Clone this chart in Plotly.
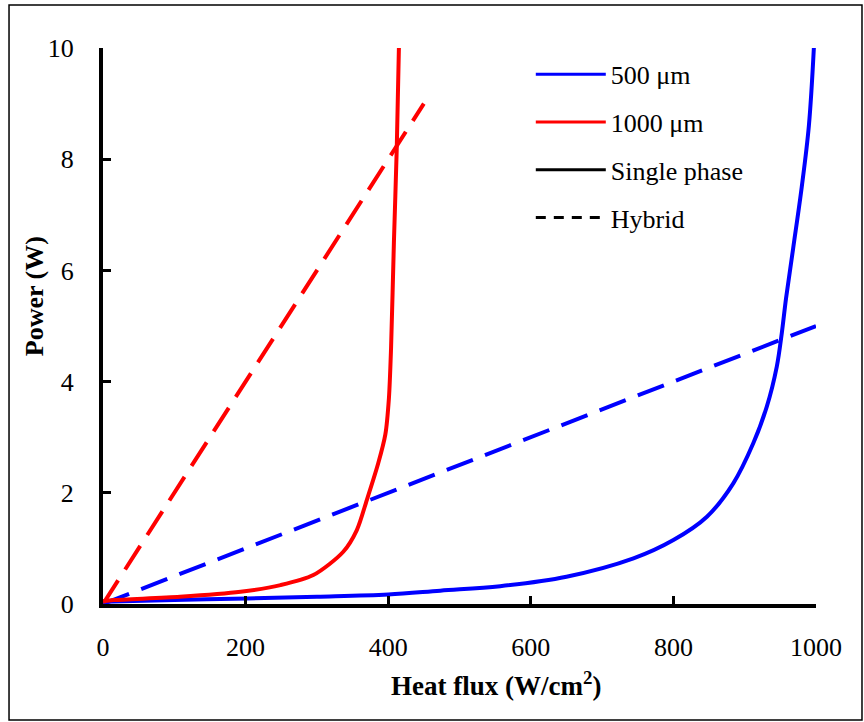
import plotly.graph_objects as go

# Data
blue_solid_x = [0, 100, 202, 300, 400, 473, 557, 650, 744, 800, 847, 884, 912, 931, 945, 952, 958, 968, 980, 990, 997]
blue_solid_y = [0.04, 0.07, 0.10, 0.13, 0.17, 0.24, 0.32, 0.49, 0.82, 1.15, 1.57, 2.17, 2.89, 3.55, 4.27, 4.87, 5.5, 6.4, 7.5, 8.6, 10]
red_solid_x = [0, 15, 108, 193, 249, 295, 337, 356, 370, 386, 396, 401, 404, 408, 412, 415]
red_solid_y = [0.05, 0.07, 0.13, 0.22, 0.34, 0.52, 0.94, 1.33, 1.87, 2.53, 3.05, 3.7, 4.6, 6.5, 8.2, 10]
blue_hybrid_x = [0, 1000]
blue_hybrid_y = [0, 5]
red_hybrid_x = [0, 450]
red_hybrid_y = [0, 9]

x_ticks = [0, 200, 400, 600, 800, 1000]
y_ticks = [0, 2, 4, 6, 8, 10]

FONT = "Liberation Serif"
BLUE = "#0000FF"
RED = "#FF0000"

fig = go.Figure()

fig.add_trace(go.Scatter(x=blue_hybrid_x, y=blue_hybrid_y, mode="lines",
                         line=dict(color=BLUE, width=4, dash="28px,13px"), showlegend=False))
fig.add_trace(go.Scatter(x=red_hybrid_x, y=red_hybrid_y, mode="lines",
                         line=dict(color=RED, width=4, dash="28px,13px"), showlegend=False))
fig.add_trace(go.Scatter(x=blue_solid_x, y=blue_solid_y, mode="lines",
                         line=dict(color=BLUE, width=4, shape="spline", smoothing=1.0),
                         showlegend=False))
fig.add_trace(go.Scatter(x=red_solid_x, y=red_solid_y, mode="lines",
                         line=dict(color=RED, width=4, shape="spline", smoothing=0.8),
                         showlegend=False))

# legend-only entries
legend_items = [("500 μm", BLUE, "solid"), ("1000 μm", RED, "solid"),
                ("Single phase", "black", "solid"), ("Hybrid", "black", "10px,8px")]
for i, (name, col, dash) in enumerate(legend_items):
    fig.add_trace(go.Scatter(x=[None], y=[None], mode="lines", name=name,
                             legendgroup=f"g{i}",
                             line=dict(color=col, width=3, dash=dash)))

axis_common = dict(
    showline=True, linecolor="black", linewidth=4, mirror=False,
    ticks="inside", ticklen=8, tickwidth=3, tickcolor="black",
    showgrid=False, zeroline=False,
    tickfont=dict(family=FONT, size=26, color="black"),
)

fig.update_xaxes(range=[0, 1000], tickvals=x_ticks, ticklabelstandoff=17, **axis_common)
fig.update_yaxes(range=[0, 10], tickvals=y_ticks, ticklabelstandoff=20, **axis_common)

fig.update_layout(
    width=864, height=722,
    margin=dict(l=103, r=48, t=48, b=118),
    plot_bgcolor="white", paper_bgcolor="white",
    font=dict(family=FONT, color="black"),
    legend=dict(x=0.60, y=0.995, xanchor="left", yanchor="top",
                font=dict(family=FONT, size=26, color="black"),
                itemwidth=70, tracegroupgap=11, traceorder="grouped",
                bgcolor="rgba(0,0,0,0)"),
    annotations=[
        dict(text="<b>Heat flux (W/cm<sup>2</sup>)</b>", xref="paper", yref="paper",
             x=0.5505, y=-0.143, xanchor="center", yanchor="middle", showarrow=False,
             font=dict(family=FONT, size=27, color="black")),
        dict(text="<b>Power (W)</b>", xref="paper", yref="paper",
             x=-0.095, y=0.554, xanchor="center", yanchor="middle", showarrow=False,
             textangle=-90, font=dict(family=FONT, size=26, color="black")),
    ],
    shapes=[dict(type="rect", xref="paper", yref="paper",
                 x0=-0.1318, x1=1.0645, y0=-0.2086, y1=1.0773,
                 line=dict(color="black", width=1.5), layer="below")],
)

fig.write_html("out.html")
